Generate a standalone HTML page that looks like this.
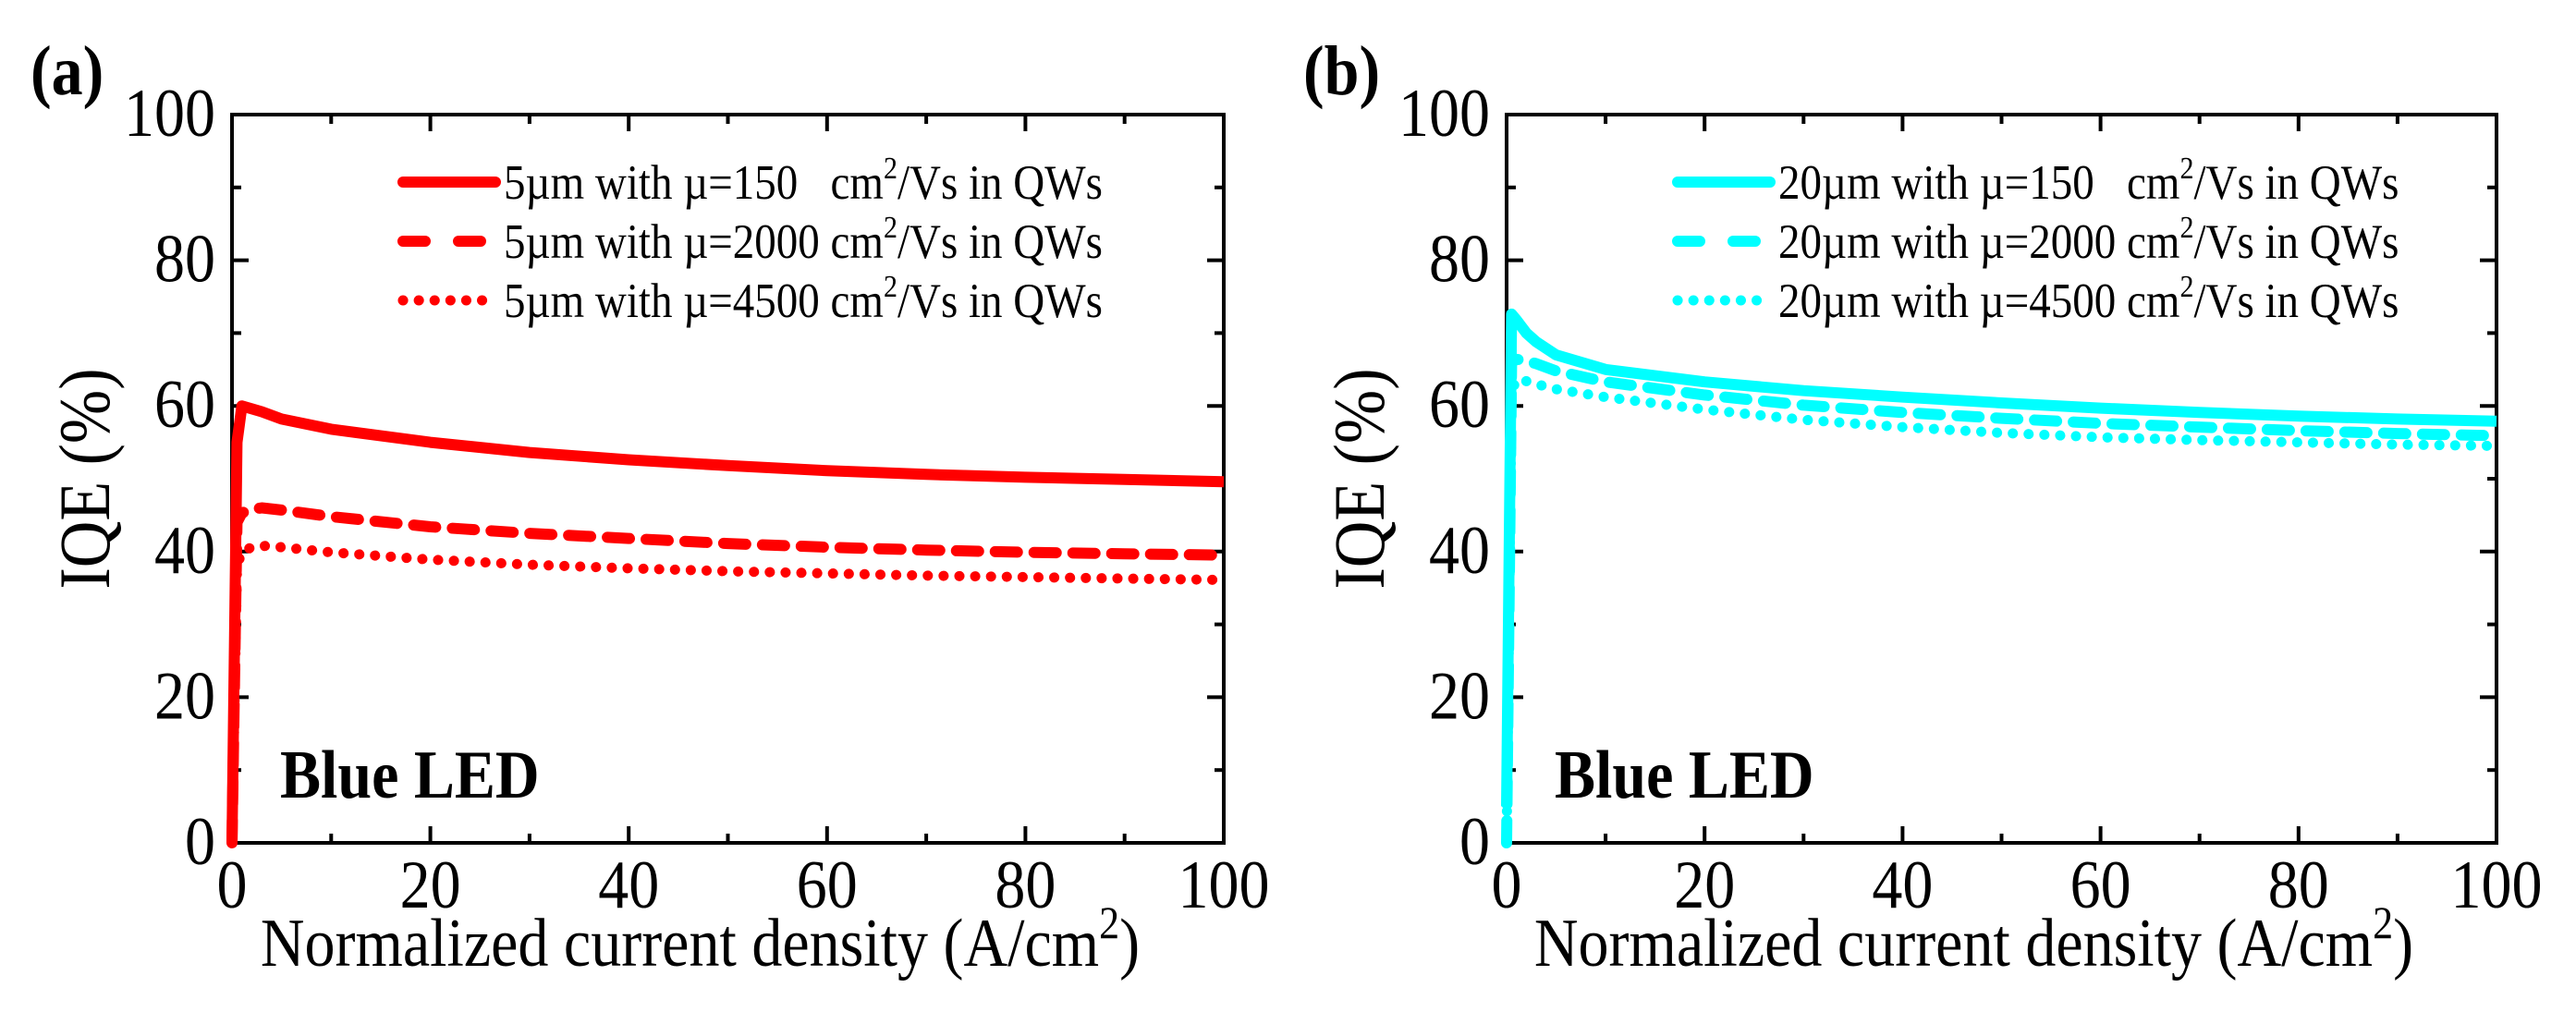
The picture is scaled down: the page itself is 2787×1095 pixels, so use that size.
<!DOCTYPE html>
<html><head><meta charset="utf-8"><style>
html,body{margin:0;padding:0;background:#fff;}
svg{display:block;}
svg text{font-family:"Liberation Serif","Times New Roman",serif;}
</style></head><body>
<svg id="fig" width="2787" height="1095" viewBox="0 0 2787 1095" xmlns="http://www.w3.org/2000/svg"></svg>
<script>
// ---- data ----
const xTickLabels = [0, 20, 40, 60, 80, 100];
const yTickLabels = [0, 20, 40, 60, 80, 100];
const xVals = [0, 0.5, 1, 2, 3, 5, 10, 20, 30, 40, 50, 60, 70, 80, 90, 100];
const aSolid  = [0, 55, 60, 59.6, 59.2, 58.2, 56.8, 55, 53.6, 52.6, 51.8, 51.1, 50.6, 50.2, 49.9, 49.6];
const aDashed = [0, 44, 45.3, 45.8, 46, 45.7, 44.8, 43.4, 42.5, 41.8, 41.1, 40.6, 40.2, 39.9, 39.7, 39.5];
const aDotted = [0, 38, 40, 40.6, 40.8, 40.6, 39.9, 38.9, 38.2, 37.7, 37.3, 37, 36.7, 36.5, 36.3, 36.1];
const bSolid  = [5, 72.6, 71.8, 70, 68.8, 67, 65, 63.3, 62.1, 61.2, 60.4, 59.7, 59.1, 58.6, 58.2, 57.9];
const bDashed = [0, 66, 66.4, 66.2, 65.8, 64.8, 63.3, 61.5, 60.1, 59.1, 58.3, 57.6, 57.1, 56.6, 56.2, 55.9];
const bDotted = [0, 62, 63.6, 63.4, 63, 62.3, 61.2, 59.5, 58.1, 57.1, 56.3, 55.7, 55.3, 55, 54.7, 54.5];
const legendA = ["5\u00b5m with \u00b5=150 \u00a0 cm", "5\u00b5m with \u00b5=2000 cm", "5\u00b5m with \u00b5=4500 cm"];
const legendB = ["20\u00b5m with \u00b5=150 \u00a0 cm", "20\u00b5m with \u00b5=2000 cm", "20\u00b5m with \u00b5=4500 cm"];

const NS = "http://www.w3.org/2000/svg";
const svg = document.getElementById('fig');
function mk(tag, attrs, parent) {
  const e = document.createElementNS(NS, tag);
  for (const k in attrs) e.setAttribute(k, attrs[k]);
  (parent || svg).appendChild(e);
  return e;
}
const TOP = 124, BOT = 912;
function yScale(v) { return BOT - (v / 100) * (BOT - TOP); }
const allTexts = [];

function panel(key, L, R, color, series, legend, letter, letterX, yTitleX) {
  const g = mk('g', {});
  
  
  const xs = v => L + (v / 100) * (R - L);
  const fr = mk('rect', {x: L, y: TOP, width: R - L, height: BOT - TOP, fill: 'none', stroke: '#000', 'stroke-width': 4}, g);
  
  
  for (let v = 0; v <= 100; v += 10) {
    const major = v % 20 === 0, len = major ? 18 : 10;
    const x = xs(v), y = yScale(v);
    mk('line', {x1: x, y1: BOT, x2: x, y2: BOT - len, stroke: '#000', 'stroke-width': 4}, g);
    mk('line', {x1: x, y1: TOP, x2: x, y2: TOP + len, stroke: '#000', 'stroke-width': 4}, g);
    mk('line', {x1: L, y1: y, x2: L + len, y2: y, stroke: '#000', 'stroke-width': 4}, g);
    mk('line', {x1: R, y1: y, x2: R - len, y2: y, stroke: '#000', 'stroke-width': 4}, g);
  }
  xTickLabels.forEach(v => {
    const t = mk('text', {x: xs(v), y: 982, 'font-size': 66, 'text-anchor': 'middle', fill: '#000'}, g);
    t.textContent = v;
    
    
    allTexts.push(t);
  });
  yTickLabels.forEach(v => {
    const t = mk('text', {x: L - 18, y: yScale(v) + 23, 'font-size': 66, 'text-anchor': 'end', fill: '#000'}, g);
    t.textContent = v;
    
    
    allTexts.push(t);
  });
  const xt = mk('text', {x: (L + R) / 2 - 30, y: 1045, 'font-size': 66, 'text-anchor': 'middle', fill: '#000'}, g);
  
  
  xt.appendChild(document.createTextNode('Normalized current density (A/cm'));
  const sup = mk('tspan', {dy: -30, 'font-size': 44}, xt); sup.textContent = '2';
  const cl = mk('tspan', {dy: 30}, xt); cl.textContent = ')';
  allTexts.push(xt);
  const cy = (TOP + BOT) / 2;
  const yt = mk('text', {x: yTitleX, y: cy, 'font-size': 70, 'text-anchor': 'middle', fill: '#000', transform: `rotate(-90 ${yTitleX} ${cy})`}, g);
  yt.textContent = 'IQE (%)';
  
  
  allTexts.push(yt);
  const lt = mk('text', {x: letterX, y: 102, 'font-size': 68, 'font-weight': 'bold', fill: '#000'}, g);
  lt.textContent = letter;
  
  
  allTexts.push(lt);
  const bl = mk('text', {x: L + 52, y: 863, 'font-size': 66, 'font-weight': 'bold', fill: '#000'}, g);
  bl.textContent = 'Blue LED';
  
  
  allTexts.push(bl);
  const styles = [
    {dash: null, cap: 'butt', name: 'solid'},
    {dash: '24 18', cap: 'round', name: 'dashed'},
    {dash: '0.1 17', cap: 'round', name: 'dotted'}
  ];
  series.forEach((vals, i) => {
    const pts = xVals.map((xv, j) => xs(xv).toFixed(1) + ',' + yScale(vals[j]).toFixed(1)).join(' ');
    const a = {points: pts, fill: 'none', stroke: color, 'stroke-width': i === 2 ? 11 : 12, 'stroke-linecap': styles[i].cap, 'stroke-linejoin': 'round'};
    if (styles[i].dash) a['stroke-dasharray'] = styles[i].dash;
    const p = mk('polyline', a, g);
    
    
    const ly = 197 + i * 64;
    const lx = L + 179;
    const la = {x1: lx + 6, y1: ly, x2: lx + 106, y2: ly, stroke: color, 'stroke-width': i === 2 ? 11 : 12, 'stroke-linecap': 'round'};
    if (i === 1) { la.x2 = lx + 100; la['stroke-dasharray'] = '24 36'; }
    if (i === 2) la['stroke-dasharray'] = '0.1 17';
    const ll = mk('line', la, g);
    
    
    const tx = mk('text', {x: lx + 115, y: ly + 18, 'font-size': 47, fill: '#000'}, g);
    
    
    tx.appendChild(document.createTextNode(legend[i]));
    const s2 = mk('tspan', {dy: -22, 'font-size': 30}, tx); s2.textContent = '2';
    const rest = mk('tspan', {dy: 22}, tx); rest.textContent = '/Vs in QWs';
    allTexts.push(tx);
  });
}
panel('a', 251, 1324, '#ff0000', [aSolid, aDashed, aDotted], legendA, '(a)', 33, 118);
panel('b', 1630, 2701, '#00ffff', [bSolid, bDashed, bDotted], legendB, '(b)', 1410, 1497);

// make glyphs taller but keep original widths (reference font is condensed)
allTexts.forEach(t => {
  let w = 0;
  try { w = t.getComputedTextLength(); } catch (e) {}
  const fs = parseFloat(t.getAttribute('font-size'));
  t.setAttribute('font-size', (fs * 1.12).toFixed(1));
  t.querySelectorAll('tspan').forEach(s => {
    if (s.getAttribute('font-size')) s.setAttribute('font-size', (parseFloat(s.getAttribute('font-size')) * 1.12).toFixed(1));
  });
  if (w > 0) {
    t.setAttribute('textLength', w.toFixed(1));
    t.setAttribute('lengthAdjust', 'spacingAndGlyphs');
  }
});
</script>
</body></html>
